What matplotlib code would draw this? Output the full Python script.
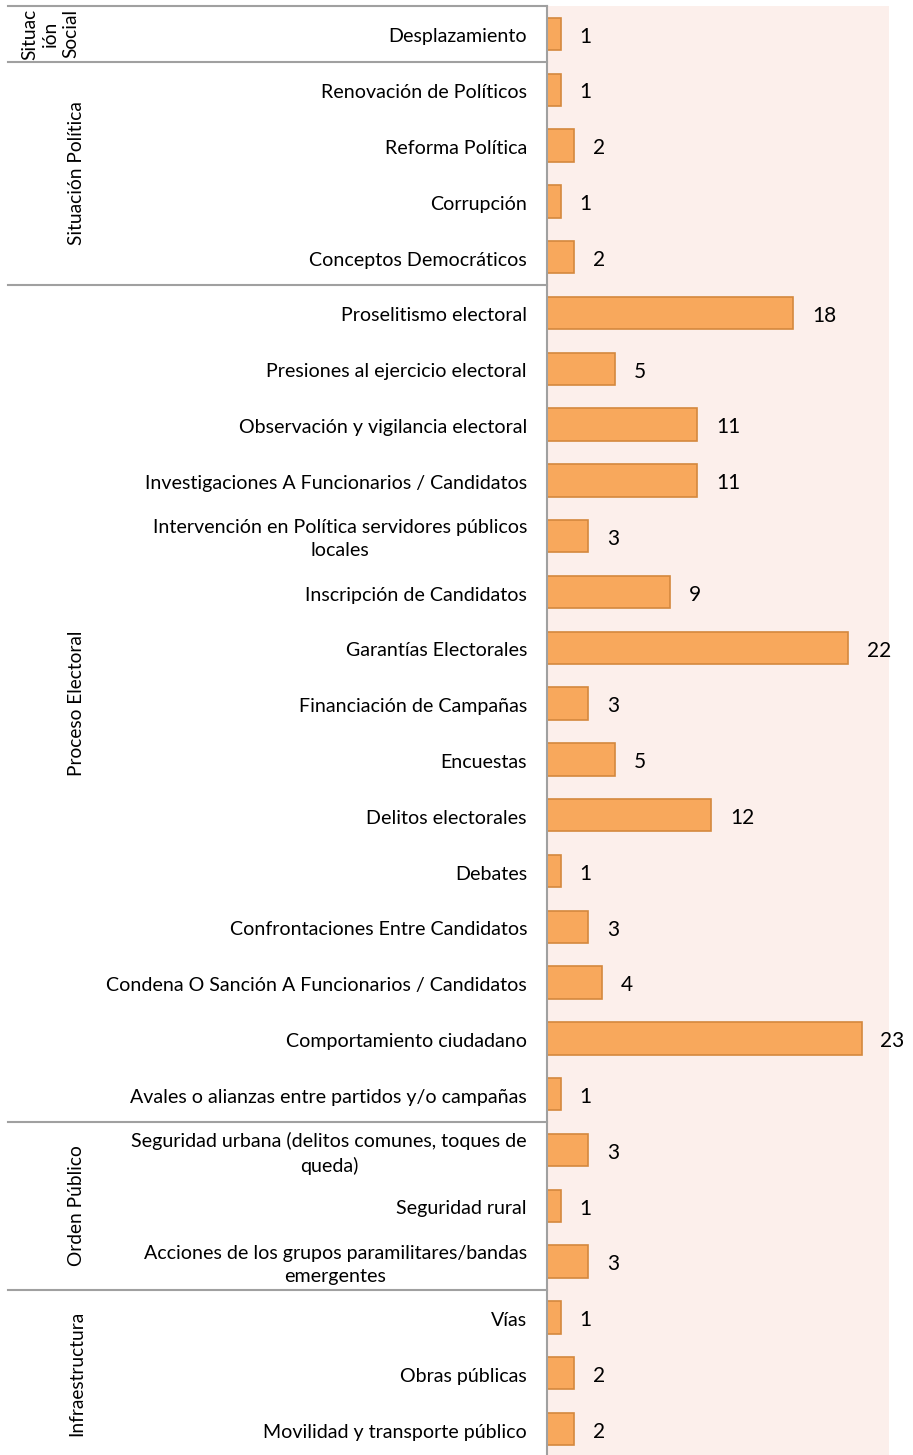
import matplotlib
matplotlib.use('Agg')
import matplotlib.pyplot as plt
import numpy as np

plt.rcParams['font.family'] = ['Lato', 'DejaVu Sans']

# categories top to bottom, grouped
groups = ['Situac\nión\nSocial', 'Situación Política', 'Proceso Electoral',
          'Orden Público', 'Infraestructura']
group_sizes = [1, 4, 15, 3, 3]

categories = [
    'Desplazamiento',
    'Renovación de Políticos',
    'Reforma Política',
    'Corrupción',
    'Conceptos Democráticos',
    'Proselitismo electoral',
    'Presiones al ejercicio electoral',
    'Observación y vigilancia electoral',
    'Investigaciones A Funcionarios / Candidatos',
    'Intervención en Política servidores públicos\nlocales',
    'Inscripción de Candidatos',
    'Garantías Electorales',
    'Financiación de Campañas',
    'Encuestas',
    'Delitos electorales',
    'Debates',
    'Confrontaciones Entre Candidatos',
    'Condena O Sanción A Funcionarios / Candidatos',
    'Comportamiento ciudadano',
    'Avales o alianzas entre partidos y/o campañas',
    'Seguridad urbana (delitos comunes, toques de\nqueda)',
    'Seguridad rural',
    'Acciones de los grupos paramilitares/bandas\nemergentes',
    'Vías',
    'Obras públicas',
    'Movilidad y transporte público',
]
values = [1, 1, 2, 1, 2, 18, 5, 11, 11, 3, 9, 22, 3, 5, 12, 1, 3, 4, 23, 1,
          3, 1, 3, 1, 2, 2]

W, H = 913, 1455
fig = plt.figure(figsize=(W / 100, H / 100), dpi=100)
# plot area in pixels: x 547..889, y 6..1457
ax = fig.add_axes([547 / W, 1 - 1457 / H, (889 - 547) / W, (1457 - 6) / H])
ax.set_facecolor('#FCEFEB')

n = len(categories)
y = np.arange(n)
ax.barh(y, values, height=0.58, color='#F8A85C', edgecolor='#D4883E', linewidth=1.2)
ax.set_ylim(n - 0.5, -0.5)
ax.set_xlim(0, 25)

for yi, v in zip(y, values):
    ax.annotate(str(v), (v, yi), xytext=(13.5, -2), textcoords='offset points',
                va='center', ha='left', fontsize=15, color='black')

ax.set_xticks([])
ax.set_yticks([])
for s in ['top', 'right', 'bottom']:
    ax.spines[s].set_visible(False)
ax.spines['left'].set_color('#A0A0A0')
ax.spines['left'].set_linewidth(1.5)

# category labels
trans = ax.get_yaxis_transform()
x_lab = -20 / (889 - 547)
for yi, c in zip(y, categories):
    ax.annotate(c, (x_lab, yi), xycoords=trans, xytext=(0, -2.2),
                textcoords='offset points', ha='right', va='center',
                multialignment='center', fontsize=14.1, linespacing=1.45,
                color='black')

# group separators and labels
x_left = (8 - 547) / (889 - 547)
start = 0
ax.plot([x_left, 0], [-0.5, -0.5], transform=trans, color='#A0A0A0',
        lw=1.5, clip_on=False)
for g, size in zip(groups, group_sizes):
    end = start + size
    mid = (start + end - 1) / 2
    if '\n' in g:
        ax.text((50 - 547) / (889 - 547), mid, g, transform=trans, rotation=90,
                ha='center', va='center', fontsize=13.8, linespacing=1.25,
                multialignment='center')
    else:
        ax.text((77 - 547) / (889 - 547), mid, g, transform=trans, rotation=90,
                ha='center', va='center', fontsize=13.8)
    if end < n:
        ax.plot([x_left, 0], [end - 0.5, end - 0.5], transform=trans,
                color='#A0A0A0', lw=1.5, clip_on=False)
    start = end

fig.savefig('out.png', dpi=100)
